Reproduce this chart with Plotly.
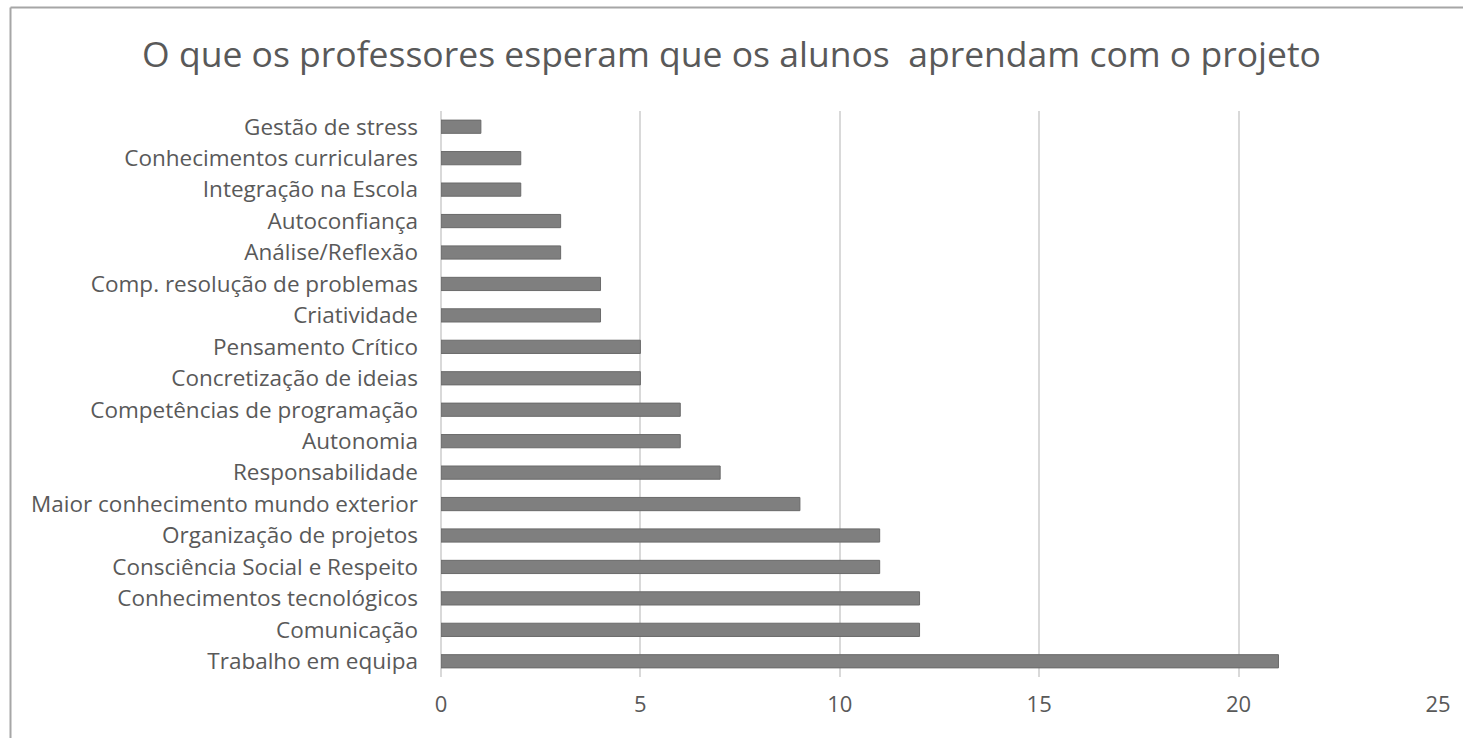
import plotly.graph_objects as go

categories = [
    "Gestão de stress",
    "Conhecimentos curriculares",
    "Integração na Escola",
    "Autoconfiança",
    "Análise/Reflexão",
    "Comp. resolução de problemas",
    "Criatividade",
    "Pensamento Crítico",
    "Concretização de ideias",
    "Competências de programação",
    "Autonomia",
    "Responsabilidade",
    "Maior conhecimento mundo exterior",
    "Organização de projetos",
    "Consciência Social e Respeito",
    "Conhecimentos tecnológicos",
    "Comunicação",
    "Trabalho em equipa",
]
values = [1, 2, 2, 3, 3, 4, 4, 5, 5, 6, 6, 7, 9, 11, 11, 12, 12, 21]
x_ticks = [0, 5, 10, 15, 20, 25]
title = "O que os professores esperam que os alunos  aprendam com o projeto"

W, H = 1463, 738
L, R, T, B = 441, 25, 111, 61
PW, PH = W - L - R, H - T - B

def px_x(p):
    return (p - L) / PW

def px_y(p):
    return (H - B - p) / PH

fig = go.Figure(
    go.Bar(
        x=values,
        y=categories,
        orientation="h",
        marker=dict(color="#7f7f7f", line=dict(color="#6a6a6a", width=1)),
    )
)

fig.update_layout(
    width=W,
    height=H,
    margin=dict(l=L, r=R, t=T, b=B),
    paper_bgcolor="white",
    plot_bgcolor="white",
    bargap=0.58,
    showlegend=False,
    font=dict(family="Open Sans", color="#595959"),
    title=dict(
        text=title,
        x=0.5,
        xref="container",
        xanchor="center",
        y=1 - 55 / H,
        yref="container",
        yanchor="middle",
        font=dict(size=35.5, color="#595959", family="Open Sans"),
    ),
    xaxis=dict(
        range=[0, 25],
        tickvals=x_ticks,
        showgrid=True,
        gridcolor="#d9d9d9",
        gridwidth=2,
        zeroline=True,
        zerolinecolor="#d9d9d9",
        zerolinewidth=2,
        showline=False,
        ticks="",
        ticklabelstandoff=12,
        tickfont=dict(size=22, color="#595959"),
    ),
    yaxis=dict(
        autorange="reversed",
        showgrid=False,
        zeroline=False,
        showline=False,
        ticks="",
        ticklabelstandoff=22,
        tickfont=dict(size=22.5, color="#595959"),
    ),
    shapes=[
        dict(type="line", xref="paper", yref="paper",
             x0=px_x(10.5), x1=px_x(W + 5), y0=px_y(7.5), y1=px_y(7.5),
             line=dict(color="#a6a6a6", width=2)),
        dict(type="line", xref="paper", yref="paper",
             x0=px_x(10.5), x1=px_x(10.5), y0=px_y(7.5), y1=px_y(H + 5),
             line=dict(color="#a6a6a6", width=2)),
    ],
)

fig.write_html("out.html")
